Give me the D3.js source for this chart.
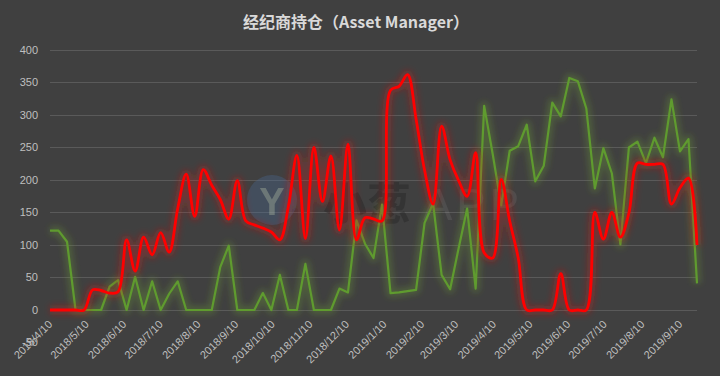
<!DOCTYPE html>
<html><head><meta charset="utf-8">
<script src="https://cdn.jsdelivr.net/npm/d3@7"></script>
<style>html,body{margin:0;padding:0;background:#404040;overflow:hidden;} svg{display:block;}</style>
</head><body>
<svg id="c" width="720" height="376"></svg>
<script>
const title = "经纪商持仓（Asset Manager）";
const dates = [
"2018-04-10","2018-04-17","2018-04-24","2018-05-01","2018-05-08","2018-05-15","2018-05-22","2018-05-29",
"2018-06-05","2018-06-12","2018-06-19","2018-06-26","2018-07-03","2018-07-10","2018-07-17","2018-07-24",
"2018-07-31","2018-08-07","2018-08-14","2018-08-21","2018-08-28","2018-09-04","2018-09-11","2018-09-18",
"2018-09-25","2018-10-02","2018-10-09","2018-10-16","2018-10-23","2018-10-30","2018-11-06","2018-11-13",
"2018-11-20","2018-11-27","2018-12-04","2018-12-11","2018-12-18","2018-12-25","2019-01-01","2019-01-08",
"2019-01-15","2019-01-22","2019-01-29","2019-02-05","2019-02-12","2019-02-19","2019-02-26","2019-03-05",
"2019-03-12","2019-03-19","2019-03-26","2019-04-02","2019-04-09","2019-04-16","2019-04-23","2019-04-30",
"2019-05-07","2019-05-14","2019-05-21","2019-05-28","2019-06-04","2019-06-11","2019-06-18","2019-06-25",
"2019-07-02","2019-07-09","2019-07-16","2019-07-23","2019-07-30","2019-08-06","2019-08-13","2019-08-20",
"2019-08-27","2019-09-03","2019-09-10","2019-09-17","2019-09-24"];
const greenValues = [
122,122,105,0,0,0,0,36,46,0,51,0,44,0,25,44,
0,0,0,0,66,99,0,0,0,26,0,54,0,0,71,0,
0,0,33,27,138,102,80,162,26,27,29,31,134,164,54,32,
95,156,33,314,240,161,245,252,285,198,222,319,298,357,352,310,
187,249,210,101,250,259,226,265,235,324,244,263,41];
const redValues = [
0,0,0,0,0,31,30,26,28,108,60,112,85,119,89,156,
209,144,216,192,170,140,199,137,131,126,120,108,159,238,110,250,
167,237,123,255,108,142,140,137,338,344,362,294,215,163,283,231,
199,175,242,88,80,201,137,80,0,0,0,0,56,0,0,0,
150,109,150,112,149,226,224,224,224,163,188,203,100];
const tickLabels = ["2018/4/10","2018/5/10","2018/6/10","2018/7/10","2018/8/10","2018/9/10",
"2018/10/10","2018/11/10","2018/12/10","2019/1/10","2019/2/10","2019/3/10","2019/4/10",
"2019/5/10","2019/6/10","2019/7/10","2019/8/10","2019/9/10"];
const yTicks = [-50,0,50,100,150,200,250,300,350,400];
const gridTicks = [0,50,100,150,200,250,300,350,400];

const svg = d3.select("#c");
svg.append("rect").attr("width",720).attr("height",376).attr("fill","#404040");

const parse = d3.timeParse("%Y-%m-%d");
const parseTick = d3.timeParse("%Y/%m/%d");
const xd = dates.map(parse);
const x = d3.scaleTime().domain([xd[0], xd[xd.length-1]]).range([50, 697]);
const y = d3.scaleLinear().domain([-50, 400]).range([342.5, 50]);

const defs = svg.append("defs");
defs.append("filter").attr("id","blur").attr("x","-20%").attr("y","-20%").attr("width","140%").attr("height","140%")
  .append("feGaussianBlur").attr("stdDeviation",3);

// gridlines
svg.append("g").selectAll("line").data(gridTicks).join("line")
  .attr("x1",50).attr("x2",697).attr("y1",d=>y(d)).attr("y2",d=>y(d))
  .attr("stroke","#5a5a5a").attr("stroke-width",1).attr("shape-rendering","crispEdges");

// y labels
svg.append("g").selectAll("text").data(yTicks).join("text")
  .attr("x",38).attr("y",d=>y(d)).attr("dy","0.35em").attr("text-anchor","end")
  .attr("font-family","'Liberation Sans', Arial, sans-serif").attr("font-size",11)
  .attr("fill","#bfbfbf").text(d=>d);

// x labels
svg.append("g").selectAll("text").data(tickLabels).join("text")
  .attr("transform",d=>`translate(${x(parseTick(d))+3},325) rotate(-45)`)
  .attr("text-anchor","end")
  .attr("font-family","'Liberation Sans', Arial, sans-serif").attr("font-size",11)
  .attr("fill","#bfbfbf").text(d=>d);

// watermark
const wm = svg.append("g");
wm.append("circle").attr("cx",272).attr("cy",200).attr("r",25).attr("fill","#4a6a96").attr("opacity",0.35);
wm.append("text").attr("x",272).attr("y",215).attr("text-anchor","middle")
  .attr("font-family","'Liberation Sans', Arial, sans-serif").attr("font-weight","bold").attr("font-size",38)
  .attr("fill","#b8c4a8").attr("opacity",0.35).text("Y");
wm.append("text").attr("x",323).attr("y",220)
  .attr("font-family","'Noto Sans CJK SC', sans-serif").attr("font-weight","bold").attr("font-size",44)
  .attr("fill","#1e1e1e").attr("opacity",0.35).text("小葱");
wm.append("text").attr("x",423).attr("y",220)
  .attr("font-family","'Liberation Sans', Arial, sans-serif").attr("font-size",44)
  .attr("fill","#ffffff").attr("opacity",0.07).attr("letter-spacing",4).text("APP");

const lineG = d3.line().x((d,i)=>x(xd[i])).y(d=>y(d));
const lineR = d3.line().x((d,i)=>x(xd[i])).y(d=>y(d)).curve(d3.curveCatmullRom.alpha(0.5));

// green glow + line
svg.append("path").datum(greenValues).attr("d",lineG).attr("fill","none")
  .attr("stroke","#6a9a30").attr("stroke-width",8).attr("stroke-opacity",0.35)
  .attr("stroke-linejoin","round").attr("filter","url(#blur)");
svg.append("path").datum(greenValues).attr("d",lineG).attr("fill","none")
  .attr("stroke","#5f9b2f").attr("stroke-width",2.2).attr("stroke-linejoin","round");

// red glow + line
svg.append("path").datum(redValues).attr("d",lineR).attr("fill","none")
  .attr("stroke","#d02010").attr("stroke-width",9).attr("stroke-opacity",0.35)
  .attr("stroke-linejoin","round").attr("filter","url(#blur)");
svg.append("path").datum(redValues).attr("d",lineR).attr("fill","none")
  .attr("stroke","#ff0000").attr("stroke-width",2.8).attr("stroke-linejoin","round");

// title
svg.append("text").attr("x",356).attr("y",28).attr("text-anchor","middle")
  .attr("font-family","'Noto Sans CJK SC', sans-serif").attr("font-weight","bold").attr("font-size",16)
  .attr("fill","#d9d9d9").text(title);
</script>
</body></html>
